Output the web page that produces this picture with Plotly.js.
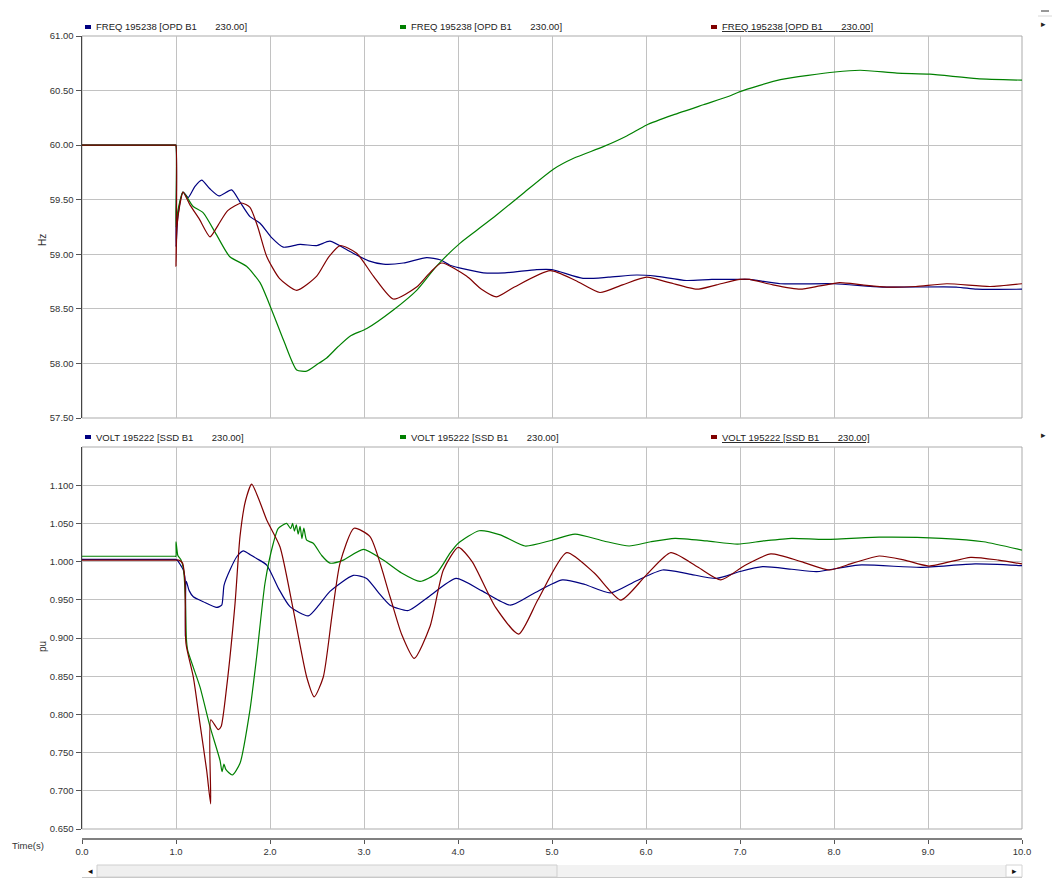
<!DOCTYPE html>
<html><head><meta charset="utf-8">
<script src="https://cdn.plot.ly/plotly-3.0.1.min.js"></script>
<style>html,body{margin:0;padding:0;background:#fff;}#chart{width:1052px;height:880px;}</style>
</head><body><div id="chart"></div>
<script>
// ---------- DATA ----------
const timeTicks = [0,1,2,3,4,5,6,7,8,9,10];
const freqTicks = [57.5,58.0,58.5,59.0,59.5,60.0,60.5,61.0];
const voltTicks = [0.65,0.70,0.75,0.80,0.85,0.90,0.95,1.00,1.05,1.10];

const freqBlueT = [0,0.99,0.999,1.0,1.02,1.075,1.13,1.20,1.273,1.36,1.457,1.592,1.68,1.787,1.894,2.02,2.141,2.32,2.497,2.638,2.85,3.05,3.205,3.418,3.667,3.81,3.915,4.27,4.5,4.837,5.0,5.33,5.6,5.9,6.1,6.43,6.7,7.0,7.1,7.43,8.0,8.52,9.3,9.52,10.0];
const freqBlue  = [60.00,60.00,60.00,59.07,59.35,59.57,59.52,59.62,59.68,59.60,59.535,59.59,59.48,59.345,59.285,59.15,59.065,59.09,59.08,59.12,59.025,58.94,58.91,58.92,58.97,58.95,58.90,58.83,58.83,58.86,58.86,58.78,58.79,58.81,58.80,58.76,58.77,58.77,58.77,58.73,58.73,58.70,58.70,58.68,58.68];

const freqGreenT = [0,0.99,0.999,1.0,1.02,1.075,1.18,1.29,1.43,1.57,1.75,1.894,2.018,2.15,2.284,2.39,2.50,2.603,2.72,2.851,3.03,3.312,3.56,3.77,4.02,4.20,4.41,4.695,5.014,5.23,5.546,5.795,6.007,6.29,6.61,6.89,7.0,7.43,8.01,8.28,8.67,9.02,9.52,10.0];
const freqGreen  = [60.00,60.00,60.00,59.25,59.40,59.57,59.44,59.38,59.18,58.98,58.89,58.74,58.49,58.20,57.94,57.93,57.99,58.05,58.15,58.25,58.32,58.49,58.67,58.89,59.10,59.22,59.36,59.56,59.78,59.88,59.986,60.084,60.185,60.277,60.37,60.45,60.49,60.60,60.67,60.686,60.66,60.65,60.61,60.595];

const freqRedT = [0,0.99,0.999,1.0,1.01,1.04,1.075,1.15,1.25,1.362,1.45,1.55,1.698,1.787,1.87,1.965,2.10,2.284,2.497,2.62,2.745,2.922,3.10,3.312,3.56,3.70,3.826,4.09,4.25,4.41,4.60,4.98,5.25,5.51,5.75,6.007,6.25,6.54,6.75,7.0,7.1,7.35,7.64,7.85,8.06,8.3,8.56,8.87,9.2,9.66,10.0];
const freqRed  = [60.00,60.00,60.00,58.89,59.25,59.45,59.57,59.45,59.32,59.16,59.27,59.40,59.47,59.43,59.25,58.98,58.78,58.67,58.80,58.97,59.08,59.01,58.80,58.59,58.70,58.83,58.92,58.80,58.68,58.61,58.70,58.85,58.76,58.65,58.72,58.79,58.74,58.68,58.72,58.77,58.77,58.72,58.68,58.71,58.74,58.72,58.70,58.705,58.73,58.705,58.73];

const voltBlueT = [0,0.99,0.999,1.02,1.05,1.078,1.098,1.10,1.11,1.14,1.184,1.29,1.433,1.486,1.50,1.511,1.574,1.65,1.716,1.79,1.858,1.965,2.09,2.213,2.408,2.52,2.638,2.886,3.028,3.15,3.277,3.472,3.667,3.98,4.25,4.557,4.80,5.11,5.35,5.62,5.90,6.176,6.45,6.75,7.0,7.24,7.55,7.816,8.26,8.924,9.5,10.0];
const voltBlue  = [1.003,1.003,1.003,1.001,0.995,0.989,0.975,0.902,0.974,0.962,0.954,0.9475,0.940,0.943,0.955,0.969,0.989,1.007,1.014,1.009,1.004,0.9955,0.965,0.941,0.929,0.943,0.961,0.982,0.978,0.960,0.943,0.936,0.952,0.978,0.962,0.943,0.958,0.976,0.970,0.959,0.975,0.989,0.984,0.978,0.987,0.9933,0.990,0.9868,0.9955,0.9925,0.9969,0.9947];

const voltGreenT = [0,0.99,0.999,1.0,1.02,1.05,1.08,1.10,1.11,1.124,1.255,1.362,1.468,1.49,1.51,1.53,1.599,1.681,1.787,1.858,1.947,2.035,2.088,2.177,2.22,2.24,2.26,2.28,2.30,2.32,2.34,2.36,2.39,2.46,2.55,2.638,2.78,2.993,3.205,3.40,3.596,3.773,3.915,4.003,4.225,4.45,4.713,5.0,5.245,5.55,5.821,6.05,6.309,6.65,6.973,7.25,7.55,7.9,8.48,9.145,9.59,10.0];
const voltGreen  = [1.007,1.007,1.007,1.026,1.008,1.003,0.990,0.950,0.900,0.884,0.836,0.784,0.740,0.725,0.735,0.728,0.7207,0.736,0.806,0.8755,0.972,1.024,1.0436,1.050,1.043,1.050,1.040,1.048,1.036,1.046,1.030,1.044,1.028,1.024,1.008,0.998,1.002,1.016,1.002,0.985,0.974,0.9847,1.011,1.024,1.0404,1.035,1.0204,1.028,1.036,1.027,1.0204,1.026,1.0305,1.027,1.023,1.027,1.0305,1.029,1.032,1.0305,1.026,1.015];

const voltRedT = [0,0.99,0.999,1.03,1.07,1.096,1.106,1.184,1.255,1.326,1.369,1.370,1.45,1.48,1.539,1.628,1.681,1.74,1.805,1.88,1.965,2.106,2.248,2.390,2.471,2.567,2.66,2.745,2.894,3.064,3.277,3.40,3.535,3.702,3.844,4.003,4.15,4.40,4.646,4.85,5.156,5.45,5.732,6.0,6.264,6.55,6.796,7.05,7.328,7.65,7.95,8.2,8.48,8.75,9.01,9.455,9.75,10.0];
const voltRed  = [1.002,1.002,1.002,1.002,0.998,0.972,0.893,0.849,0.788,0.727,0.683,0.793,0.780,0.784,0.836,0.945,1.033,1.080,1.1015,1.082,1.0545,1.0195,0.9367,0.849,0.823,0.849,0.930,0.998,1.0436,1.0326,0.954,0.905,0.8734,0.915,0.989,1.0187,1.000,0.940,0.9052,0.950,1.0117,0.985,0.9497,0.982,1.0117,0.993,0.976,0.995,1.010,1.000,0.989,0.998,1.0073,1.002,0.9942,1.0056,1.002,0.9969];

const seriesColors = ['#000080', '#008000', '#800000'];
const NB = '\u00a0';
const freqLabel = 'FREQ 195238 [OPD B1' + NB.repeat(7) + '230.00]';
const voltLabel = 'VOLT 195222 [SSD B1' + NB.repeat(7) + '230.00]';

// ---------- helpers for pixel -> paper placement of decorations ----------
const L = 82, R = 1022, T = 36, B = 839;
const px = v => (v - L) / (R - L);
const py = v => (B - v) / (B - T);

const FONT = 'Liberation Sans, Arial, sans-serif';
const txt = '#333333';
const grid = '#c2c2c2';

function line(x, y, color, xa, ya) {
  return {x: x, y: y, xaxis: xa, yaxis: ya, type: 'scatter', mode: 'lines',
          line: {color: color, width: 1.2, shape: 'spline', smoothing: 0.6},
          hoverinfo: 'skip', showlegend: false};
}

const data = [
  line(freqBlueT, freqBlue, seriesColors[0], 'x', 'y'),
  line(freqGreenT, freqGreen, seriesColors[1], 'x', 'y'),
  line(freqRedT, freqRed, seriesColors[2], 'x', 'y'),
  line(voltBlueT, voltBlue, seriesColors[0], 'x2', 'y2'),
  line(voltGreenT, voltGreen, seriesColors[1], 'x2', 'y2'),
  line(voltRedT, voltRed, seriesColors[2], 'x2', 'y2')
];

const topDom = [py(418), 1];
const botDom = [py(829), py(447)];

const tickFont = {family: FONT, size: 9.5, color: txt};

const layout = {
  width: 1052, height: 880,
  margin: {l: L, r: 1052 - R, t: T, b: 880 - B, pad: 0},
  paper_bgcolor: '#ffffff', plot_bgcolor: '#ffffff',
  showlegend: false,
  xaxis: {domain: [0, 1], anchor: 'y', range: [0, 10], tickvals: timeTicks,
          showticklabels: false, ticks: '', showgrid: true, gridcolor: grid, gridwidth: 1,
          zeroline: false, showline: false, fixedrange: true},
  yaxis: {domain: topDom, anchor: 'x', range: [57.5, 61], tickvals: freqTicks, tickformat: '.2f',
          ticks: 'outside', ticklen: 5, tickcolor: '#555', tickwidth: 1,
          showline: true, linecolor: '#444', linewidth: 1.5,
          showgrid: true, gridcolor: grid, zeroline: false, tickfont: tickFont, fixedrange: true},
  xaxis2: {domain: [0, 1], anchor: 'free', position: 0, range: [0, 10], tickvals: timeTicks, tickformat: '.1f',
           ticks: 'outside', ticklen: 4, tickcolor: '#555', tickwidth: 1,
           showline: true, linecolor: '#808080', linewidth: 2,
           showgrid: true, gridcolor: grid, zeroline: false, tickfont: tickFont, fixedrange: true},
  yaxis2: {domain: botDom, anchor: 'x2', range: [0.65, 1.15], tickvals: voltTicks, tickformat: '.3f',
           ticks: 'outside', ticklen: 5, tickcolor: '#555', tickwidth: 1,
           showline: true, linecolor: '#444', linewidth: 1.5,
           showgrid: true, gridcolor: grid, zeroline: false, tickfont: tickFont, fixedrange: true},
  shapes: [],
  annotations: []
};

// plot frames
[[36, 418], [447, 829]].forEach(([a, b]) => {
  layout.shapes.push({type: 'rect', xref: 'paper', yref: 'paper', x0: px(L), x1: px(R), y0: py(b), y1: py(a),
                      line: {color: '#ababab', width: 1}, layer: 'below'});
});

// legends
const legendRows = [{y: 27, label: freqLabel}, {y: 437, label: voltLabel}];
const legendX = [{m: 85, t: 94}, {m: 400, t: 409}, {m: 711, t: 720}];
legendRows.forEach(row => {
  legendX.forEach((lx, i) => {
    layout.shapes.push({type: 'rect', xref: 'paper', yref: 'paper',
      x0: px(lx.m), x1: px(lx.m + 6), y0: py(row.y + 2), y1: py(row.y - 2),
      fillcolor: seriesColors[i], line: {width: 0}});
    layout.annotations.push({xref: 'paper', yref: 'paper', x: px(lx.t), y: py(row.y),
      xanchor: 'left', yanchor: 'middle', showarrow: false,
      text: i === 2 ? '<u>' + row.label + '</u>' : row.label,
      font: {family: FONT, size: 9.5, color: '#222'}});
  });
});

// axis titles and time label
layout.annotations.push({xref: 'paper', yref: 'paper', x: px(42), y: py(240), text: 'Hz', textangle: -90,
  showarrow: false, xanchor: 'center', yanchor: 'middle', font: {family: FONT, size: 10, color: txt}});
layout.annotations.push({xref: 'paper', yref: 'paper', x: px(42), y: py(647), text: 'pu', textangle: -90,
  showarrow: false, xanchor: 'center', yanchor: 'middle', font: {family: FONT, size: 10, color: txt}});
layout.annotations.push({xref: 'paper', yref: 'paper', x: px(10), y: py(845), text: 'Time(s)',
  showarrow: false, xanchor: 'left', yanchor: 'middle', font: {family: FONT, size: 9.5, color: txt}});

// small right-edge markers
layout.shapes.push({type: 'line', xref: 'paper', yref: 'paper', x0: px(1041), x1: px(1049), y0: py(11), y1: py(11), line: {color: '#333', width: 1}});
layout.shapes.push({type: 'line', xref: 'paper', yref: 'paper', x0: px(1038), x1: px(1052), y0: py(16), y1: py(16), line: {color: '#d8d8d8', width: 1}});
[24, 435].forEach(yy => layout.annotations.push({xref: 'paper', yref: 'paper', x: px(1043), y: py(yy), text: '▸',
  showarrow: false, xanchor: 'center', yanchor: 'middle', font: {family: 'DejaVu Sans', size: 9, color: '#222'}}));

// scrollbar
layout.shapes.push({type: 'rect', xref: 'paper', yref: 'paper', x0: px(82), x1: px(1022), y0: py(877), y1: py(865),
  fillcolor: '#f2f2f2', line: {width: 0}});
layout.shapes.push({type: 'rect', xref: 'paper', yref: 'paper', x0: px(82), x1: px(97), y0: py(877), y1: py(865),
  fillcolor: '#ffffff', line: {width: 0}});
layout.shapes.push({type: 'rect', xref: 'paper', yref: 'paper', x0: px(97), x1: px(557), y0: py(877), y1: py(865),
  fillcolor: '#efefef', line: {color: '#cfcfcf', width: 1}});
layout.shapes.push({type: 'rect', xref: 'paper', yref: 'paper', x0: px(1006), x1: px(1022), y0: py(877), y1: py(865),
  fillcolor: '#ffffff', line: {color: '#d4d4d4', width: 1}});
layout.shapes.push({type: 'line', xref: 'paper', yref: 'paper', x0: px(82), x1: px(1022), y0: py(877.5), y1: py(877.5),
  line: {color: '#c8c8c8', width: 1}});
layout.annotations.push({xref: 'paper', yref: 'paper', x: px(90), y: py(871), text: '◂', showarrow: false,
  xanchor: 'center', yanchor: 'middle', font: {family: 'DejaVu Sans', size: 9, color: '#111'}});
layout.annotations.push({xref: 'paper', yref: 'paper', x: px(1014), y: py(871), text: '▸', showarrow: false,
  xanchor: 'center', yanchor: 'middle', font: {family: 'DejaVu Sans', size: 9, color: '#111'}});

Plotly.newPlot('chart', data, layout, {staticPlot: true, displayModeBar: false});
</script>
</body></html>
